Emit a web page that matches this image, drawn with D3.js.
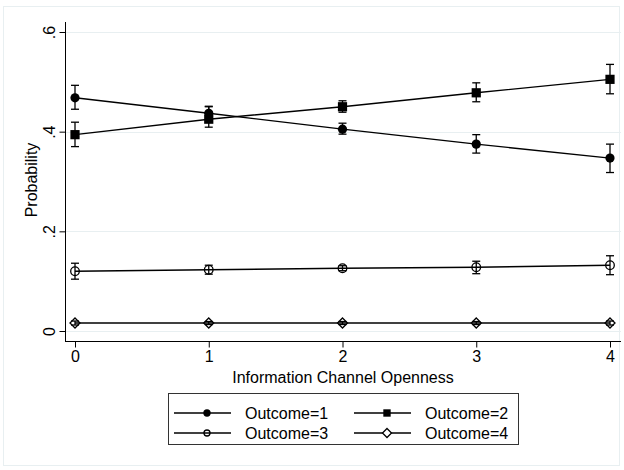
<!DOCTYPE html>
<html><head><meta charset="utf-8">
<script src="https://cdn.jsdelivr.net/npm/d3@7"></script>
<style>body{margin:0;background:#fff}svg{display:block}text{font-family:"Liberation Sans",Arial,sans-serif;fill:#000}</style>
</head><body><svg id="c" width="624" height="470"></svg>
<script>
const xValues = [0, 1, 2, 3, 4];
const yTicks = [0, 0.2, 0.4, 0.6];
const yTickLabels = ["0", ".2", ".4", ".6"];
const seriesNames = ["Outcome=1", "Outcome=2", "Outcome=3", "Outcome=4"];
const out1 = [0.468, 0.437, 0.405, 0.375, 0.347];
const out1Lo = [0.445, 0.424, 0.395, 0.357, 0.318];
const out1Hi = [0.493, 0.451, 0.417, 0.394, 0.375];
const out2 = [0.394, 0.425, 0.450, 0.478, 0.505];
const out2Lo = [0.370, 0.409, 0.439, 0.460, 0.476];
const out2Hi = [0.419, 0.450, 0.462, 0.498, 0.535];
const out3 = [0.120, 0.123, 0.126, 0.128, 0.132];
const out3Lo = [0.104, 0.114, 0.121, 0.115, 0.113];
const out3Hi = [0.136, 0.132, 0.131, 0.140, 0.151];
const out4 = [0.016, 0.016, 0.016, 0.016, 0.016];
const out4Lo = [0.012, 0.013, 0.013, 0.013, 0.012];
const out4Hi = [0.020, 0.019, 0.019, 0.019, 0.020];

const series = [
  {name: seriesNames[0], v: out1, lo: out1Lo, hi: out1Hi, sym: "circleF"},
  {name: seriesNames[1], v: out2, lo: out2Lo, hi: out2Hi, sym: "squareF"},
  {name: seriesNames[2], v: out3, lo: out3Lo, hi: out3Hi, sym: "circleO"},
  {name: seriesNames[3], v: out4, lo: out4Lo, hi: out4Hi, sym: "diamondO"}
];

const FS = 16;
const svg = d3.select("#c");
svg.append("rect").attr("x", 3.5).attr("y", 6.5).attr("width", 616).attr("height", 459)
  .attr("fill", "#fff").attr("stroke", "#e8eff1").attr("stroke-width", 1);

const x = d3.scaleLinear().domain([0, 4]).range([75, 610]);
const y = d3.scaleLinear().domain([0, 0.6]).range([331, 32]);
const plotL = 65, plotR = 621, plotT = 22, plotB = 341;

svg.append("g").selectAll("line").data(yTicks).join("line")
  .attr("x1", plotL).attr("x2", plotR)
  .attr("y1", d => Math.round(y(d)) + 0.5).attr("y2", d => Math.round(y(d)) + 0.5)
  .attr("stroke", "#e8eff1").attr("stroke-width", 1);

const yAxis = svg.append("g").attr("transform", `translate(${plotL + 0.5},0)`)
  .call(d3.axisLeft(y).tickValues(yTicks).tickFormat((d, i) => yTickLabels[i]).tickSize(6).tickPadding(3));
yAxis.select(".domain").attr("d", `M0,${plotT}V${plotB}`).attr("stroke", "#000");
yAxis.selectAll(".tick line").attr("stroke", "#000");
yAxis.selectAll(".tick text").attr("font-size", FS).attr("font-family", "Liberation Sans, Arial, sans-serif")
  .attr("transform", "rotate(-90,-11,0)")
  .attr("x", -11).attr("dy", "0").attr("y", 0).attr("text-anchor", "middle");

const xAxis = svg.append("g").attr("transform", `translate(0,${plotB + 0.5})`)
  .call(d3.axisBottom(x).tickValues(xValues).tickFormat(d3.format("d")).tickSize(6).tickPadding(3));
xAxis.select(".domain").attr("d", `M${plotL},0H${plotR}`).attr("stroke", "#000");
xAxis.selectAll(".tick line").attr("stroke", "#000");
xAxis.selectAll(".tick text").attr("font-size", FS).attr("font-family", "Liberation Sans, Arial, sans-serif");

svg.append("text").attr("x", 343).attr("y", 383).attr("text-anchor", "middle")
  .attr("font-size", FS).text("Information Channel Openness");
svg.append("text").attr("transform", "translate(37,180) rotate(-90)").attr("text-anchor", "middle")
  .attr("font-size", FS).text("Probability");

function drawMarker(g, sym, cx, cy, s) {
  if (sym === "circleF") g.append("circle").attr("cx", cx).attr("cy", cy).attr("r", 4.6 * s).attr("fill", "#000");
  else if (sym === "squareF") g.append("rect").attr("x", cx - 4.6 * s).attr("y", cy - 4.6 * s)
    .attr("width", 9.2 * s).attr("height", 9.2 * s).attr("fill", "#000");
  else if (sym === "circleO") g.append("circle").attr("cx", cx).attr("cy", cy).attr("r", 4.3 * s)
    .attr("fill", "none").attr("stroke", "#000").attr("stroke-width", 1.3);
  else if (sym === "diamondO") g.append("path")
    .attr("d", `M${cx},${cy - 5 * s}L${cx + 5 * s},${cy}L${cx},${cy + 5 * s}L${cx - 5 * s},${cy}Z`)
    .attr("fill", "none").attr("stroke", "#000").attr("stroke-width", 1.3);
}

const line = d3.line().x((d, i) => x(xValues[i])).y(d => y(d));
series.forEach(s => {
  const g = svg.append("g");
  g.append("path").attr("d", line(s.v)).attr("fill", "none").attr("stroke", "#000").attr("stroke-width", 1.4);
  xValues.forEach((xv, i) => drawMarker(g, s.sym, x(xv), y(s.v[i]), 1));
  xValues.forEach((xv, i) => {
    const cx = x(xv);
    g.append("line").attr("x1", cx).attr("x2", cx).attr("y1", y(s.lo[i])).attr("y2", y(s.hi[i]))
      .attr("stroke", "#000").attr("stroke-width", 1.3);
    [s.lo[i], s.hi[i]].forEach(v => g.append("line").attr("x1", cx - 4).attr("x2", cx + 4)
      .attr("y1", y(v)).attr("y2", y(v)).attr("stroke", "#000").attr("stroke-width", 1.3));
  });
});

const lg = svg.append("g");
lg.append("rect").attr("x", 168.5).attr("y", 393.5).attr("width", 350).attr("height", 51)
  .attr("fill", "#fff").attr("stroke", "#333").attr("stroke-width", 1);
const colX = [174, 354];
const rowY = [413, 433];
const legScale = [0.8, 0.8, 0.7, 0.9];
series.forEach((s, k) => {
  const cx0 = colX[k % 2], cy0 = rowY[Math.floor(k / 2)];
  lg.append("line").attr("x1", cx0).attr("x2", cx0 + 57).attr("y1", cy0).attr("y2", cy0)
    .attr("stroke", "#000").attr("stroke-width", 1.4);
  drawMarker(lg, s.sym, cx0 + 33, cy0, legScale[k]);
  if (s.sym === "diamondO") lg.select("path:last-of-type").attr("fill", "#fff");
  lg.append("text").attr("x", cx0 + 71).attr("y", cy0 + 5.5).attr("font-size", FS).text(s.name);
});
</script></body></html>
